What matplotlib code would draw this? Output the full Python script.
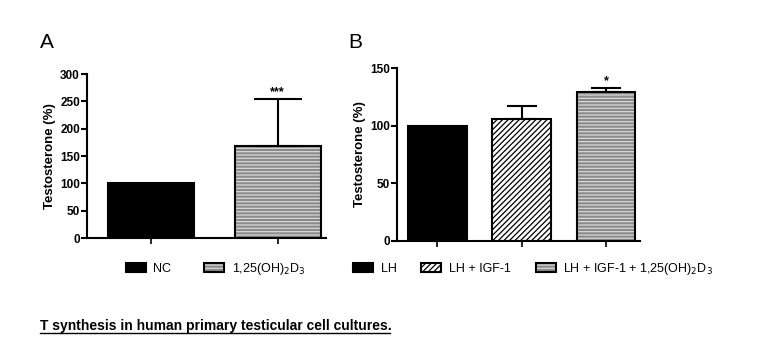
import matplotlib
matplotlib.use("Agg")

import matplotlib.pyplot as plt
from matplotlib.patches import Patch

plt.rcParams["font.family"] = ["Liberation Sans", "DejaVu Sans"]
plt.rcParams["hatch.linewidth"] = 0.9

# Panel A data
a_groups = ["NC", "1,25(OH)$_2$D$_3$"]
a_values = [100, 168]
a_errors = [0, 87]
a_stars = ["", "***"]

# Panel B data
b_groups = ["LH", "LH + IGF-1", "LH + IGF-1 + 1,25(OH)$_2$D$_3$"]
b_values = [100, 106, 129]
b_errors = [0, 11, 4]
b_stars = ["", "", "*"]

GRAY = "#8a8a8a"

# fill style for each bar: (facecolor, hatch, hatch colour)
a_styles = [("black", None, "black"), (GRAY, "-----", "#d8d8d8")]
b_styles = [("black", None, "black"), ("white", "//////", "black"), (GRAY, "-----", "#d8d8d8")]

fig = plt.figure(figsize=(7.83, 3.58), dpi=100)


def draw_panel(ax, values, errors, stars, styles, width, capsize, ymax, yticks, star_off):
    xs = list(range(len(values)))
    for x, v, (fc, hatch, hc) in zip(xs, values, styles):
        ax.bar(x, v, width=width, color=fc, hatch=hatch, edgecolor=hc, linewidth=0, zorder=2)
        ax.bar(x, v, width=width, fill=False, edgecolor="black", linewidth=1.5, zorder=3)
    for x, v, e, s in zip(xs, values, errors, stars):
        if e > 0:
            ax.errorbar(x, v, yerr=[[0], [e]], color="black", capsize=capsize,
                        elinewidth=1.5, capthick=1.5, zorder=4)
        if s:
            ax.text(x, v + e + star_off, s, ha="center", va="bottom",
                    fontsize=9, fontweight="bold")
    ax.set_ylim(0, ymax)
    ax.set_yticks(yticks)
    ax.set_xticks(xs)
    ax.set_xticklabels([""] * len(xs))
    for side in ["top", "right"]:
        ax.spines[side].set_visible(False)
    for side in ["left", "bottom"]:
        ax.spines[side].set_linewidth(1.5)
    ax.tick_params(axis="y", direction="out", length=4, width=1.5, pad=1, labelsize=8.5)
    ax.tick_params(axis="x", direction="out", length=4, width=1.2)
    for lbl in ax.get_yticklabels():
        lbl.set_fontweight("bold")
    ax.set_ylabel("Testosterone (%)", fontsize=9.5, fontweight="bold", labelpad=3)


def legend_handles(styles):
    handles = []
    for fc, hatch, hc in styles:
        fill = Patch(facecolor=fc, hatch=hatch, edgecolor=hc, linewidth=0)
        outline = Patch(fill=False, edgecolor="black", linewidth=1.5)
        handles.append((fill, outline))
    return handles


axA = fig.add_axes([0.111, 0.335, 0.305, 0.458])
draw_panel(axA, a_values, a_errors, a_stars, a_styles, 0.68, 17, 300,
           [0, 50, 100, 150, 200, 250, 300], 1)
axA.set_xlim(-0.508, 1.38)

axB = fig.add_axes([0.507, 0.327, 0.310, 0.483])
draw_panel(axB, b_values, b_errors, b_stars, b_styles, 0.70, 10.5, 150,
           [0, 50, 100, 150], 0.5)
axB.set_xlim(-0.48, 2.4)

fig.text(47 / 783, 1 - 43 / 358, "A", fontsize=15, ha="center", va="center")
fig.text(355 / 783, 1 - 43 / 358, "B", fontsize=15, ha="center", va="center")

leg_kw = dict(frameon=False, fontsize=9, handlelength=1.6, handleheight=0.8,
              handletextpad=0.6, borderaxespad=0)
fig.legend(legend_handles(a_styles), a_groups, loc="center left",
           bbox_to_anchor=(121 / 783, 1 - 269 / 358), ncol=2, columnspacing=2.6,
           **leg_kw)
fig.legend(legend_handles(b_styles), b_groups, loc="center left",
           bbox_to_anchor=(348 / 783, 1 - 269 / 358), ncol=3, columnspacing=2.0,
           **leg_kw)

fig.text(40 / 783, 1 - 326 / 358,
         "T synthesis in human primary testicular cell cultures.",
         fontsize=10, fontweight="bold", ha="left", va="center")
# underline
fig.add_artist(plt.Line2D([40 / 783, 390 / 783], [1 - 333 / 358, 1 - 333 / 358],
                          color="black", linewidth=1))

fig.savefig("out.png", dpi=100)
